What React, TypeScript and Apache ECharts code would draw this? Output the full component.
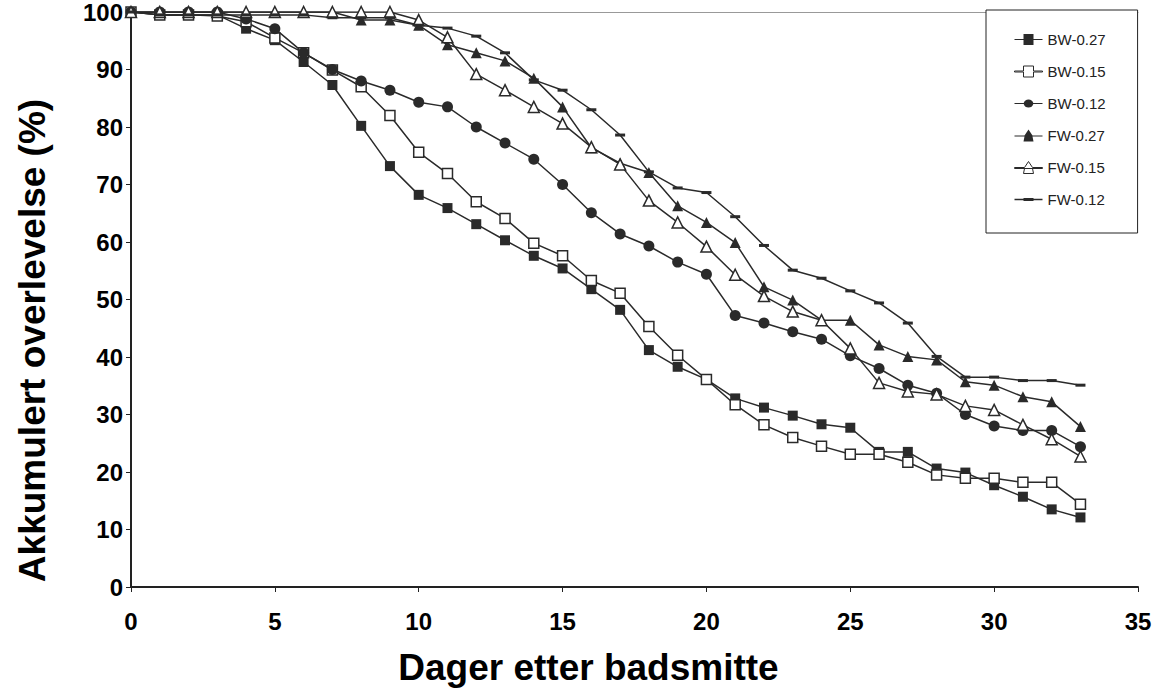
import { useEffect, useRef } from 'react';
import * as echarts from 'echarts';

const days = Array.from({ length: 34 }, (_, i) => i);

const seriesNames = ['BW-0.27', 'BW-0.15', 'BW-0.12', 'FW-0.27', 'FW-0.15', 'FW-0.12'];

const bw027 = [100, 99.5, 99.5, 99.5, 97.1, 95.1, 91.3, 87.3, 80.2, 73.2, 68.2, 65.9, 63.1, 60.3, 57.6, 55.4, 51.8, 48.2, 41.2, 38.3, 36.1, 32.8, 31.2, 29.8, 28.3, 27.7, 23.5, 23.5, 20.6, 19.9, 17.7, 15.7, 13.5, 12.1];
const bw015 = [100, 99.5, 99.5, 99.3, 98.3, 95.5, 92.9, 89.9, 87, 82, 75.6, 71.9, 67, 64.1, 59.8, 57.6, 53.3, 51.1, 45.3, 40.3, 36.1, 31.7, 28.2, 26, 24.5, 23.1, 23.1, 21.7, 19.5, 18.9, 18.9, 18.2, 18.2, 14.4];
const bw012 = [100, 100, 100, 100, 98.8, 97.1, 92.9, 90, 88, 86.4, 84.3, 83.5, 80, 77.2, 74.4, 70, 65.1, 61.4, 59.3, 56.5, 54.4, 47.2, 45.9, 44.4, 43.1, 40.2, 38, 35.1, 33.7, 30, 28, 27.2, 27.2, 24.4];
const fw027 = [100, 100, 100, 100, 100, 100, 100, 100, 98.6, 98.6, 97.7, 94.3, 92.9, 91.5, 88.5, 83.5, 76.4, 73.7, 72.1, 66.3, 63.4, 59.9, 52.2, 49.9, 46.4, 46.4, 42.1, 40.1, 39.5, 35.7, 35.1, 33.1, 32.2, 27.9];
const fw015 = [100, 100, 100, 100, 100, 100, 100, 100, 100, 100, 98.6, 95.6, 89.2, 86.4, 83.5, 80.6, 76.5, 73.5, 67.2, 63.4, 59.2, 54.3, 50.6, 47.9, 46.4, 41.5, 35.5, 34, 33.5, 31.5, 30.8, 28.2, 25.7, 22.7];
const fw012 = [100, 99.5, 99.5, 99.5, 99.5, 99.5, 99.5, 99, 99, 99, 97.7, 97.2, 95.8, 92.9, 88.2, 86.4, 83, 78.6, 72.2, 69.4, 68.6, 64.4, 59.4, 55.1, 53.7, 51.5, 49.4, 45.9, 40.1, 36.5, 36.5, 35.9, 35.9, 35.1];

const xTicks = [0, 5, 10, 15, 20, 25, 30, 35];
const yTicks = [0, 10, 20, 30, 40, 50, 60, 70, 80, 90, 100];

const seriesValues = [bw027, bw015, bw012, fw027, fw015, fw012];
const symbols = ['rect', 'rect', 'circle', 'triangle', 'triangle', 'path://M0,0 L10,0 L10,3 L0,3 Z'];
const hollow = [false, true, false, false, true, false];
const sizes: (number | number[])[] = [10, 10, 11, 11, 11, [10, 3]];
const legendIcons = [
  'path://M0,9 L9,9 L9,4 L19,4 L19,9 L28,9 L28,10 L19,10 L19,15 L9,15 L9,10 L0,10 Z',
  'path://M0,9 L9,9 L9,4 L19,4 L19,9 L28,9 L28,10 L19,10 L19,15 L9,15 L9,10 L0,10 Z',
  'path://M0,9 L9.2,9 A5,5 0 0 1 18.8,9 L28,9 L28,10 L18.8,10 A5,5 0 0 1 9.2,10 L0,10 Z',
  'path://M0,9 L10,9 L14,3 L18,9 L28,9 L28,10 L0,10 Z M10,10 L18,10 L19,15 L9,15 Z',
  'path://M0,9 L10,9 L14,3 L18,9 L28,9 L28,10 L0,10 Z M10,10 L18,10 L19,15 L9,15 Z',
  'path://M0,8.7 L9,8.7 L9,8 L19,8 L19,8.7 L28,8.7 L28,10.3 L19,10.3 L19,11 L9,11 L9,10.3 L0,10.3 Z',
];

export default function App() {
  const chartRef = useRef<HTMLDivElement>(null);

  useEffect(() => {
    if (!chartRef.current) return;
    const chart = echarts.init(chartRef.current, undefined, { renderer: 'svg' });
    const font = 'Arial, "Liberation Sans", sans-serif';

    chart.setOption({
      animation: false,
      textStyle: { fontFamily: font },
      grid: { left: 131, right: 26, top: 12, bottom: 108, outerBoundsMode: 'none' },
      legend: {
        orient: 'vertical',
        left: 986,
        top: 10,
        padding: [22, 32, 26, 28],
        itemGap: 17,
        itemWidth: 28,
        itemHeight: 18,
        borderColor: '#222',
        borderWidth: 1,
        backgroundColor: '#fff',
        textStyle: { fontSize: 15, color: '#222', fontFamily: font },
        data: seriesNames.map((name, i) => ({
          name,
          icon: legendIcons[i],
          itemStyle: {
            color: hollow[i] ? '#fff' : '#2a2a2a',
            borderColor: '#2a2a2a',
            borderWidth: hollow[i] ? 1 : 0,
          },
        })),
      },
      xAxis: [
        {
          type: 'value',
          min: xTicks[0],
          max: xTicks[xTicks.length - 1],
          interval: 5,
          axisLine: { lineStyle: { color: '#222', width: 2 } },
          axisTick: { length: 5, lineStyle: { color: '#222' } },
          axisLabel: { color: '#000', fontSize: 24, fontWeight: 'bold', margin: 22 },
          splitLine: { show: false },
          name: 'Dager etter badsmitte',
          nameLocation: 'middle',
          nameGap: 62,
          nameTextStyle: { color: '#000', fontSize: 37, fontWeight: 'bold', padding: [0, 92, 0, 0] },
        },
        {
          type: 'value', position: 'top', min: 0, max: 35,
          axisLine: { show: true, lineStyle: { color: '#999', width: 1 } },
          axisTick: { show: false }, axisLabel: { show: false }, splitLine: { show: false },
        },
      ],
      yAxis: {
        type: 'value',
        min: yTicks[0],
        max: yTicks[yTicks.length - 1],
        interval: 10,
        axisLine: { show: true, lineStyle: { color: '#222', width: 2 } },
        axisTick: { show: true, length: 5, lineStyle: { color: '#222' } },
        axisLabel: { color: '#000', fontSize: 24, fontWeight: 'bold', margin: 8 },
        splitLine: { show: false },
        name: 'Akkumulert overlevelse (%)',
        nameLocation: 'middle',
        nameGap: 80,
        nameTextStyle: { color: '#000', fontSize: 37, fontWeight: 'bold', padding: [0, 82, 0, 0] },
      },
      series: seriesNames.map((name, i) => ({
        name,
        type: 'line',
        xAxisIndex: 0,
        data: days.map((d) => [d, seriesValues[i][d]]),
        symbol: symbols[i],
        symbolSize: sizes[i],
        symbolKeepAspect: false,
        lineStyle: { color: '#2a2a2a', width: 1.5 },
        itemStyle: {
          color: hollow[i] ? '#fff' : '#2a2a2a',
          borderColor: '#2a2a2a',
          borderWidth: hollow[i] ? 1.5 : 0,
        },
      })),
    });

    return () => chart.dispose();
  }, []);

  return (
    <div
      ref={chartRef}
      style={{ position: 'absolute', left: 0, top: 0, width: 1164, height: 695, background: '#fff' }}
    />
  );
}
